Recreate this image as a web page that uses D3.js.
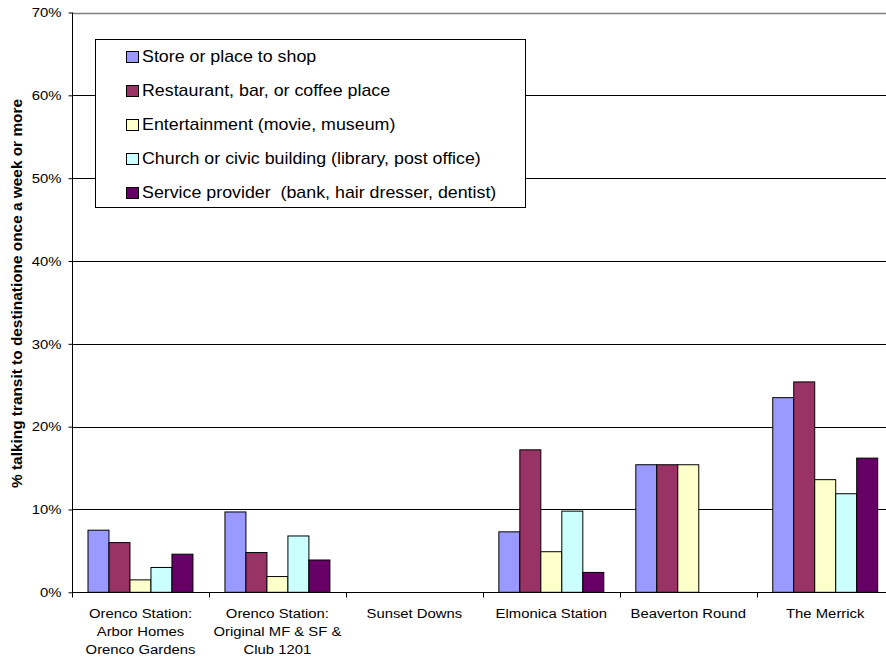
<!DOCTYPE html>
<html>
<head>
<meta charset="utf-8">
<script src="https://cdn.jsdelivr.net/npm/d3@7"></script>
<style>
  html, body { margin: 0; padding: 0; background: #fff; }
  svg { display: block; font-family: "Liberation Sans", Arial, sans-serif; }
</style>
</head>
<body>
<svg id="chart" width="886" height="662"></svg>
<script>
// Destination categories along the x axis (multi-line labels)
const categories = [
  ["Orenco Station:", "Arbor Homes", "Orenco Gardens"],
  ["Orenco Station:", "Original MF & SF &", "Club 1201"],
  ["Sunset Downs"],
  ["Elmonica Station"],
  ["Beaverton Round"],
  ["The Merrick"]
];

const seriesNames = [
  "Store or place to shop",
  "Restaurant, bar, or coffee place",
  "Entertainment (movie, museum)",
  "Church or civic building (library, post office)",
  "Service provider  (bank, hair dresser, dentist)"
];

const seriesColors = ["#9999FF", "#993366", "#FFFFCC", "#CCFFFF", "#660066"];

// Percent taking transit, one array per destination type (same order as categories)
const storeValues      = [7.5, 9.7, 0, 7.3, 15.4, 23.5];
const restaurantValues = [6.0, 4.8, 0, 17.2, 15.4, 25.4];
const entertainValues  = [1.5, 1.9, 0, 4.9, 15.4, 13.6];
const churchValues     = [3.0, 6.8, 0, 9.8, 0, 11.9];
const serviceValues    = [4.6, 3.9, 0, 2.4, 0, 16.2];

const seriesValues = [storeValues, restaurantValues, entertainValues, churchValues, serviceValues];

const yTicks = [0, 10, 20, 30, 40, 50, 60, 70];

const svg = d3.select("#chart");

// Text is rendered slightly wide, so each label sits in a horizontally scaled group
const STRETCH = 1.1;
function wideText(parent, x, y, sx) {
  return parent.append("g")
    .attr("transform", `translate(${x},${y}) scale(${sx},1)`)
    .append("text");
}

const plot = { left: 72, right: 893.7, top: 12.5, bottom: 592.3 };

const x0 = d3.scaleBand()
  .domain(d3.range(categories.length))
  .range([plot.left, plot.right])
  .padding(0);

const groupPad = 16 / 136.95;
const x1 = d3.scaleBand()
  .domain(d3.range(seriesNames.length))
  .range([x0.bandwidth() * groupPad, x0.bandwidth() * (1 - groupPad)])
  .padding(0);

const y = d3.scaleLinear().domain([0, 70]).range([plot.bottom, plot.top]);

// Gridlines
svg.append("g")
  .selectAll("line")
  .data(yTicks.filter(t => t > 0 && t < 70))
  .join("line")
  .attr("x1", plot.left).attr("x2", plot.right)
  .attr("y1", d => Math.round(y(d)) + 0.5).attr("y2", d => Math.round(y(d)) + 0.5)
  .attr("stroke", "#000").attr("stroke-width", 1);

// Top border of the plot area
svg.append("line")
  .attr("x1", plot.left).attr("x2", plot.right)
  .attr("y1", Math.round(y(70)) + 0.5).attr("y2", Math.round(y(70)) + 0.5)
  .attr("stroke", "#808080").attr("stroke-width", 1.5);

// Bars
const bars = svg.append("g");
seriesValues.forEach((vals, si) => {
  bars.selectAll(null)
    .data(vals.map((v, ci) => ({ v, ci })).filter(d => d.v > 0))
    .join("rect")
    .attr("x", d => x0(d.ci) + x1(si))
    .attr("y", d => y(d.v))
    .attr("width", x1.bandwidth())
    .attr("height", d => y(0) - y(d.v))
    .attr("fill", seriesColors[si])
    .attr("stroke", "#000")
    .attr("stroke-width", 1);
});

// Y axis
const yAxis = d3.axisLeft(y)
  .tickValues(yTicks)
  .tickFormat(d => d + "%")
  .tickSize(4)
  .tickPadding(6);

const yG = svg.append("g")
  .attr("transform", `translate(${plot.left + 0.5},0)`)
  .call(yAxis);
yG.select(".domain").attr("stroke", "#000").attr("d", `M0,${plot.top}V${plot.bottom}`);
yG.selectAll(".tick line").attr("stroke", "#000");
yG.selectAll(".tick text")
  .attr("font-size", 13.5)
  .attr("fill", "#000")
  .attr("font-family", "'Liberation Sans', Arial, sans-serif")
  .attr("transform", `scale(${STRETCH},1)`);

// X axis with category boundary ticks
const xG = svg.append("g")
  .attr("transform", `translate(0,${Math.round(plot.bottom) + 0.5})`);
xG.append("line")
  .attr("x1", plot.left).attr("x2", plot.right)
  .attr("stroke", "#000");
xG.selectAll(".boundary")
  .data(d3.range(categories.length + 1))
  .join("line")
  .attr("class", "boundary")
  .attr("x1", i => Math.round(i < categories.length ? x0(i) : plot.right) + 0.5)
  .attr("x2", i => Math.round(i < categories.length ? x0(i) : plot.right) + 0.5)
  .attr("y1", 0).attr("y2", 5)
  .attr("stroke", "#000");

// Category labels
const labels = svg.append("g");
categories.forEach((lines, ci) => {
  lines.forEach((ln, li) => {
    wideText(labels, x0(ci) + x0.bandwidth() / 2, 617.5 + li * 18.3, STRETCH)
      .attr("text-anchor", "middle")
      .attr("font-size", 13.5)
      .attr("fill", "#000")
      .text(ln);
  });
});

// Y axis title
svg.append("g")
  .attr("transform", `translate(21.5,293.5) rotate(-90) scale(${STRETCH},1)`)
  .append("text")
  .attr("text-anchor", "middle")
  .attr("font-size", 14)
  .attr("font-weight", "bold")
  .attr("fill", "#000")
  .text("% talking transit to destinatione once a week or more");

// Legend
const legend = svg.append("g");
legend.append("rect")
  .attr("x", 95.5).attr("y", 39.5)
  .attr("width", 430).attr("height", 168)
  .attr("fill", "#fff")
  .attr("stroke", "#000")
  .attr("stroke-width", 1);

seriesNames.forEach((name, i) => {
  const cy = 56 + i * 33.9;
  legend.append("rect")
    .attr("x", 126.5).attr("y", Math.round(cy - 5) + 0.5)
    .attr("width", 12).attr("height", 11)
    .attr("fill", seriesColors[i])
    .attr("stroke", "#000")
    .attr("stroke-width", 1);
  wideText(legend, 142, cy + 6.3, 1.1)
    .attr("font-size", 16.2)
    .attr("fill", "#000")
    .attr("xml:space", "preserve")
    .style("white-space", "pre")
    .text(name);
});
</script>
</body>
</html>
